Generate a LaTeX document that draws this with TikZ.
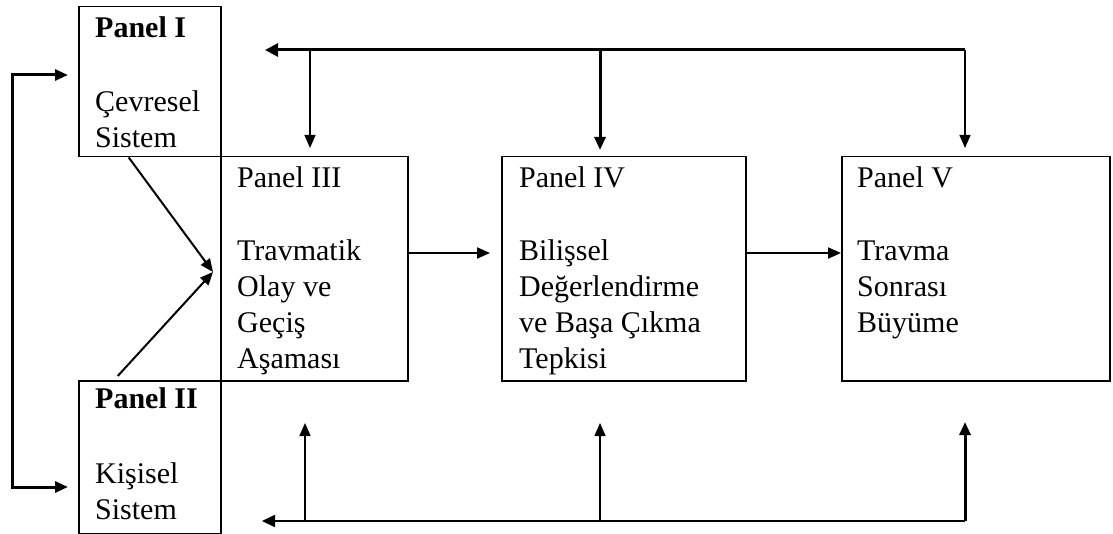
\documentclass[tikz,border=0pt]{standalone}
\usepackage{fontspec}
\setmainfont{Liberation Serif}
\usepackage{tikz}
\usetikzlibrary{arrows.meta, positioning}

\begin{document}
\begin{tikzpicture}[x=1pt, y=-1pt,
    panel/.style={draw, line width=1.5pt, inner sep=0pt, anchor=north west},
    paneltext/.style={anchor=north west, align=left, inner sep=0pt,
        font=\fontsize{30}{36}\selectfont},
    conn/.style={line width=1.5pt, -{Triangle[length=13pt, width=11pt]}},
    bus/.style={line width=3pt}]
    \useasboundingbox (0,0) rectangle (1113,534);

    % Panels
    \node[panel, minimum width=142pt, minimum height=150pt] (p1) at (78,6) {};
    \node[panel, minimum width=142pt, minimum height=153pt] (p2) at (78,380) {};
    \node[panel, minimum width=187pt, minimum height=224pt] (p3) at (220,156) {};
    \node[panel, minimum width=244pt, minimum height=224pt] (p4) at (501,156) {};
    \node[panel, minimum width=268pt, minimum height=224pt] (p5) at (841,156) {};

    \node[paneltext, xshift=17pt, yshift=-10.5pt] (t1) at (p1.north west)
        {\textbf{Panel I}\\[38pt]Çevresel\\Sistem};
    \node[paneltext, xshift=17pt, yshift=-7.5pt] (t2) at (p2.north west)
        {\textbf{Panel II}\\[39pt]Kişisel\\Sistem};
    \node[paneltext, xshift=17pt, yshift=-10.5pt] (t3) at (p3.north west)
        {Panel III\\[37pt]Travmatik\\Olay ve\\Geçiş\\Aşaması};
    \node[paneltext, xshift=18pt, yshift=-10.5pt] (t4) at (p4.north west)
        {Panel IV\\[37pt]Bilişsel\\Değerlendirme\\ve Başa Çıkma\\Tepkisi};
    \node[paneltext, xshift=16pt, yshift=-10.5pt] (t5) at (p5.north west)
        {Panel V\\[37pt]Travma\\Sonrası\\Büyüme};

    % Left loop to Panel I and Panel II
    \coordinate (l1) at (12,75);
    \coordinate (l2) at (12,487);
    \draw[line width=3pt, {Triangle[length=13pt, width=11pt]}-{Triangle[length=13pt, width=11pt]}]
        ([xshift=-10pt]p1.west |- l1) -- (l1) -- (l2) -- ([xshift=-10pt]p2.west |- l2);

    % Panel I and II into Panel III
    \coordinate (m3) at (213,272);
    \draw[conn, line width=2pt] ([xshift=-21pt]p1.south) -- (m3);
    \draw[conn, line width=2pt] ([xshift=-32pt, yshift=4pt]p2.north) -- (m3);

    % Top line
    \coordinate (tl) at (265,50);
    \coordinate (tr) at (965,50);
    \coordinate (tm) at (600,50);
    \coordinate (t3x) at (310,50);
    \draw[bus, -{Triangle[length=13pt, width=13pt]}] (tr) -- (tl);
    \draw[conn] (t3x) -- ([yshift=8pt]t3x |- p3.north);
    \draw[conn, line width=3pt] (tm) -- ([yshift=6pt]tm |- p4.north);
    \draw[conn] (tr) -- ([yshift=8pt]tr |- p5.north);

    % Bottom line
    \coordinate (bl) at (262,521);
    \coordinate (br) at (965,521);
    \coordinate (bm) at (600,521);
    \coordinate (b3x) at (305,521);
    \draw[line width=2pt, -{Triangle[length=13pt, width=12pt]}] (br) -- (bl);
    \draw[conn] (b3x) -- ++(0,-98);
    \draw[conn] (bm) -- ++(0,-98);
    \draw[conn, line width=3pt] (br) -- ++(0,-99);

    % Panel III -> IV -> V
    \draw[conn, line width=2pt] (p3.east |- 0,253) -- ([xshift=-11pt]p4.west |- 0,253);
    \draw[conn, line width=2pt] (p4.east |- 0,253) -- (p5.west |- 0,253);
\end{tikzpicture}
\end{document}
